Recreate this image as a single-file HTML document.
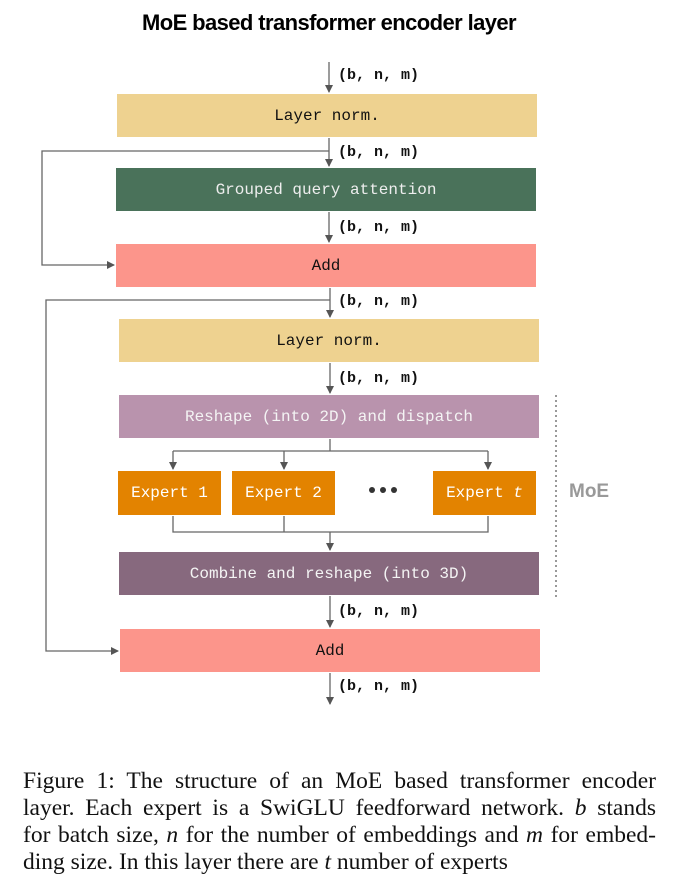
<!DOCTYPE html>
<html><head><meta charset="utf-8"><style>
body{margin:0;background:#fff;width:696px;height:891px;position:relative;overflow:hidden}
.t{position:absolute;white-space:nowrap}
.box{position:absolute;display:flex;align-items:center;justify-content:center;font-family:"Liberation Mono",monospace;font-size:16px}
.lbl{position:absolute;font-family:"Liberation Mono",monospace;font-weight:bold;font-size:15px;color:#111}
.cl{position:absolute;left:23px;width:633px;font-family:"Liberation Serif",serif;font-size:23.5px;line-height:27px;text-align:justify;text-align-last:justify;color:#111;white-space:nowrap}
</style></head><body>
<div class="t" style="left:0;width:658px;text-align:center;top:10px;font-family:'Liberation Sans',sans-serif;font-weight:bold;font-size:22px;letter-spacing:-0.6px">MoE based transformer encoder layer</div>
<svg width="696" height="891" style="position:absolute;left:0;top:0">
<defs><marker id="a" markerWidth="8" markerHeight="8" refX="7" refY="4" orient="auto" markerUnits="userSpaceOnUse"><path d="M0,0 L8,4 L0,8 z" fill="#555"/></marker></defs>
<g stroke="#666" stroke-width="1.3" fill="none">
<line x1="329" y1="62" x2="329" y2="92" marker-end="url(#a)"/>
<line x1="329" y1="138" x2="329" y2="166" marker-end="url(#a)"/>
<line x1="329" y1="212" x2="329" y2="242" marker-end="url(#a)"/>
<polyline points="329,151 42,151 42,265 114,265" marker-end="url(#a)"/>
<line x1="330" y1="288" x2="330" y2="317" marker-end="url(#a)"/>
<polyline points="330,300 46,300 46,651 118,651" marker-end="url(#a)"/>
<line x1="330" y1="363" x2="330" y2="393" marker-end="url(#a)"/>
<line x1="330" y1="439" x2="330" y2="451"/>
<line x1="173" y1="451" x2="488" y2="451"/>
<line x1="173" y1="451" x2="173" y2="469" marker-end="url(#a)"/>
<line x1="284" y1="451" x2="284" y2="469" marker-end="url(#a)"/>
<line x1="488" y1="451" x2="488" y2="469" marker-end="url(#a)"/>
<polyline points="173,516 173,532 488,532 488,516"/>
<line x1="284" y1="516" x2="284" y2="532"/>
<line x1="330" y1="532" x2="330" y2="550" marker-end="url(#a)"/>
<line x1="330" y1="596" x2="330" y2="627" marker-end="url(#a)"/>
<line x1="330" y1="673" x2="330" y2="704" marker-end="url(#a)"/>
</g>
<line x1="556" y1="395" x2="556" y2="598" stroke="#999" stroke-width="2" stroke-dasharray="2,3"/>
<g fill="#333"><circle cx="372" cy="490" r="3"/><circle cx="383" cy="490" r="3"/><circle cx="394" cy="490" r="3"/></g>
</svg>
<div class="box" style="left:117px;top:94px;width:420px;height:43px;background:#eed290;color:#111">Layer norm.</div>
<div class="box" style="left:116px;top:168px;width:420px;height:43px;background:#4a725a;color:#eee">Grouped query attention</div>
<div class="box" style="left:116px;top:244px;width:420px;height:43px;background:#fc958b;color:#111">Add</div>
<div class="box" style="left:119px;top:319px;width:420px;height:43px;background:#eed290;color:#111">Layer norm.</div>
<div class="box" style="left:119px;top:395px;width:420px;height:43px;background:#b993ad;color:#f4f4f4">Reshape (into 2D) and dispatch</div>
<div class="box" style="left:118px;top:471px;width:103px;height:44px;background:#e38300;color:#fff">Expert 1</div>
<div class="box" style="left:232px;top:471px;width:103px;height:44px;background:#e38300;color:#fff">Expert 2</div>
<div class="box" style="left:433px;top:471px;width:103px;height:44px;background:#e38300;color:#fff">Expert&nbsp;<i>t</i></div>
<div class="box" style="left:119px;top:552px;width:420px;height:43px;background:#87697e;color:#f4f4f4">Combine and reshape (into 3D)</div>
<div class="box" style="left:120px;top:629px;width:420px;height:43px;background:#fc958b;color:#111">Add</div>
<div class="t" style="left:569px;top:481px;font-family:'Liberation Sans',sans-serif;font-weight:bold;font-size:19px;color:#999">MoE</div>
<div class="lbl" style="left:338px;top:67px">(b, n, m)</div>
<div class="lbl" style="left:338px;top:144px">(b, n, m)</div>
<div class="lbl" style="left:338px;top:219px">(b, n, m)</div>
<div class="lbl" style="left:338px;top:293px">(b, n, m)</div>
<div class="lbl" style="left:338px;top:370px">(b, n, m)</div>
<div class="lbl" style="left:338px;top:603px">(b, n, m)</div>
<div class="lbl" style="left:338px;top:678px">(b, n, m)</div>
<div>
<div class="cl" style="top:768px">Figure 1: The structure of an MoE based transformer encoder</div>
<div class="cl" style="top:795px">layer. Each expert is a SwiGLU feedforward network. <i>b</i> stands</div>
<div class="cl" style="top:822px">for batch size, <i>n</i> for the number of embeddings and <i>m</i> for embed-</div>
<div class="cl" style="top:849px;text-align-last:left">ding size. In this layer there are <i>t</i> number of experts</div>
</div>
</body></html>
